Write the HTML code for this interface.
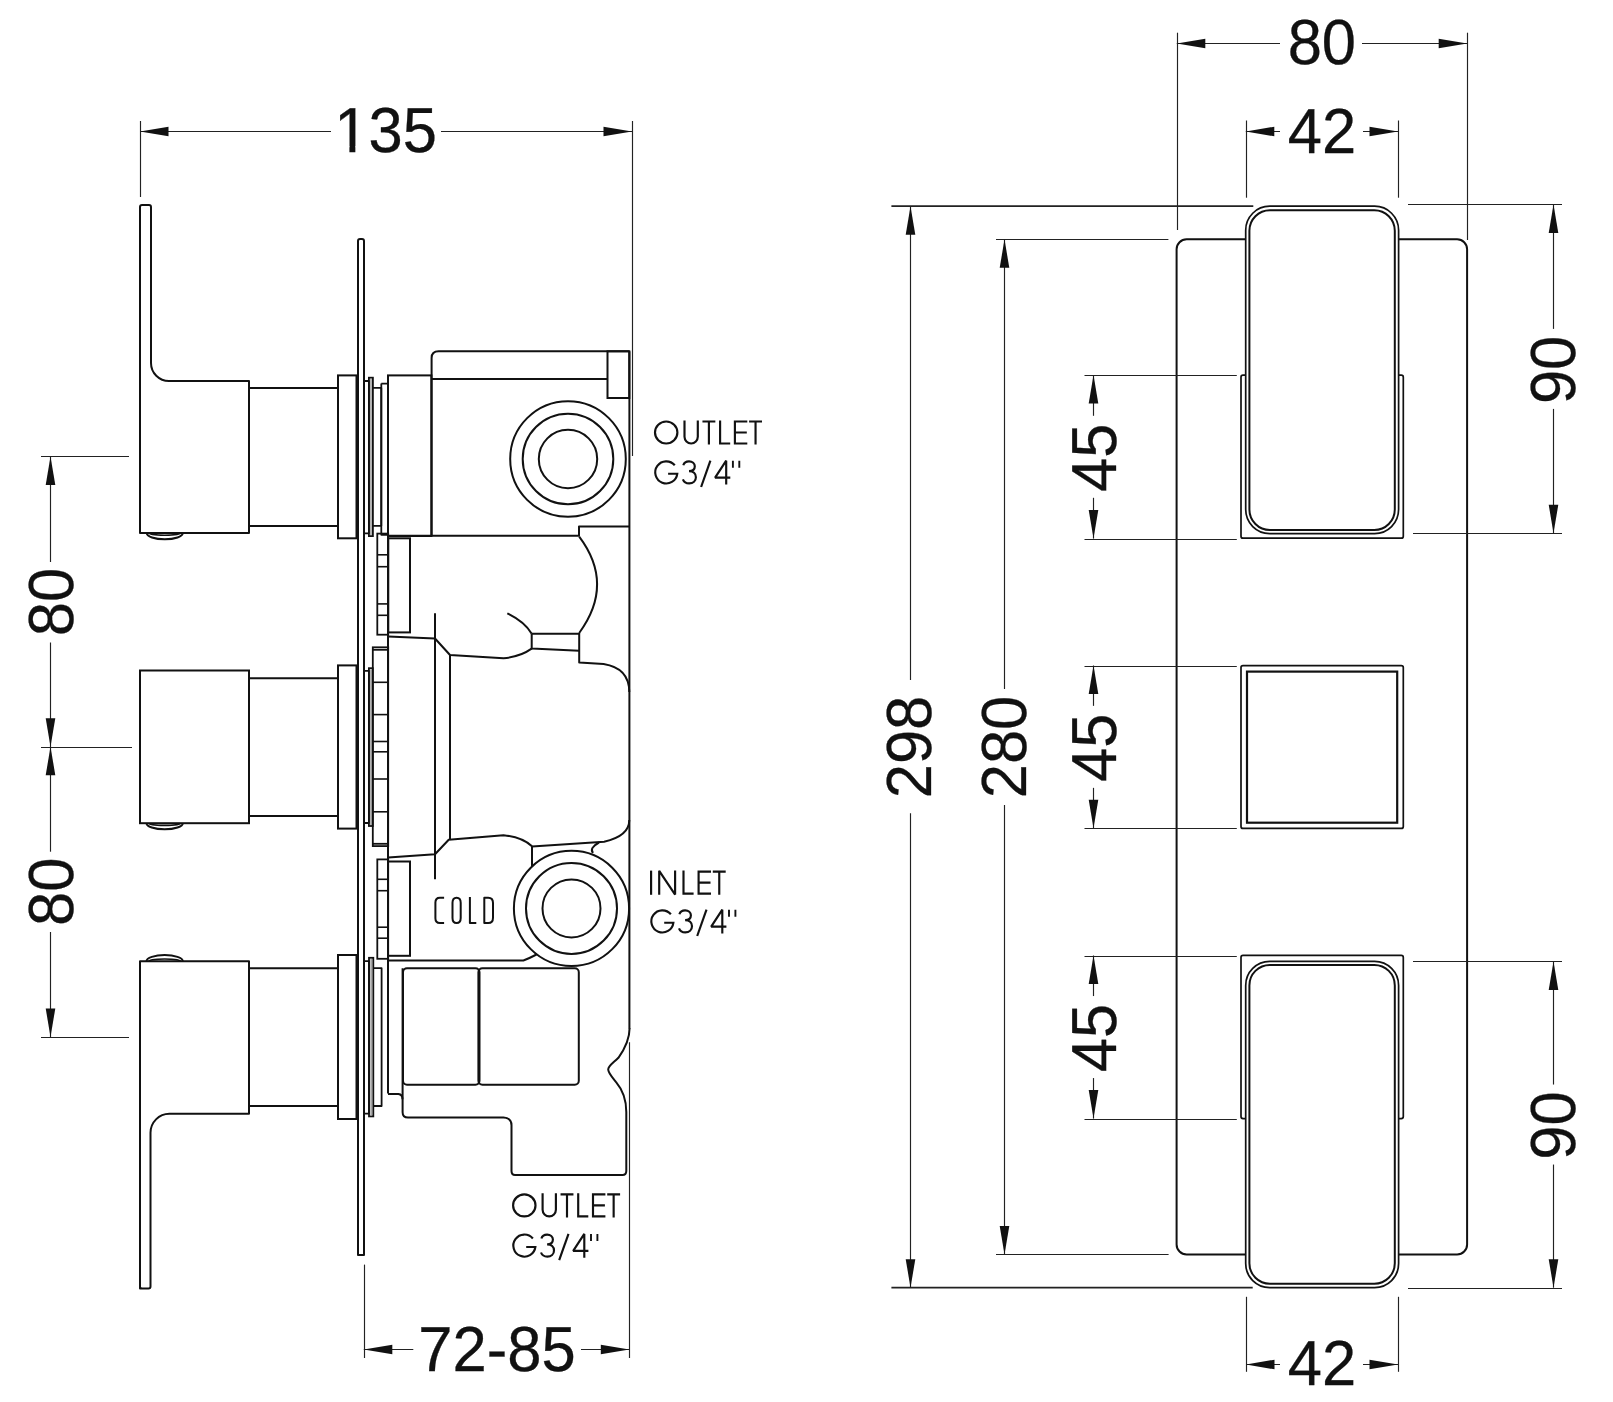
<!DOCTYPE html><html><head><meta charset="utf-8"><style>html,body{margin:0;padding:0;background:#fff;}svg{display:block;} text{text-rendering:geometricPrecision;}</style></head><body>
<svg width="1613" height="1402" viewBox="0 0 1613 1402" style="will-change:transform">
<rect width="1613" height="1402" fill="#fff"/>
<line x1="140.5" y1="121" x2="140.5" y2="197" stroke="#222" stroke-width="1.15"/>
<line x1="632.5" y1="121" x2="632.5" y2="456" stroke="#222" stroke-width="1.15"/>
<line x1="140" y1="131.5" x2="331" y2="131.5" stroke="#222" stroke-width="1.15"/>
<line x1="441" y1="131.5" x2="632" y2="131.5" stroke="#222" stroke-width="1.15"/>
<polygon points="140.0,131.5 168.5,126.7 168.5,136.3" fill="#111"/>
<polygon points="632.0,131.5 603.5,126.7 603.5,136.3" fill="#111"/>
<text transform="translate(385.6,152.3) scale(1.0,1.035)" x="0" y="0" font-size="61.5" text-anchor="middle" fill="#111" stroke="#111" stroke-width="0.3" font-family="Liberation Sans">135</text>
<rect x="337.5" y="146.3" width="11.9" height="7" fill="#fff"/><rect x="355.35" y="146.3" width="11.5" height="7" fill="#fff"/>
<line x1="50.5" y1="456.5" x2="50.5" y2="562" stroke="#222" stroke-width="1.15"/>
<line x1="50.5" y1="642.5" x2="50.5" y2="851.7" stroke="#222" stroke-width="1.15"/>
<line x1="50.5" y1="932" x2="50.5" y2="1037" stroke="#222" stroke-width="1.15"/>
<line x1="41" y1="456.5" x2="129" y2="456.5" stroke="#222" stroke-width="1.15"/>
<line x1="41" y1="747.5" x2="132" y2="747.5" stroke="#222" stroke-width="1.15"/>
<line x1="41" y1="1037.5" x2="129" y2="1037.5" stroke="#222" stroke-width="1.15"/>
<polygon points="50.5,456.5 45.7,485.0 55.3,485.0" fill="#111"/>
<polygon points="50.5,746.7 45.7,718.2 55.3,718.2" fill="#111"/>
<polygon points="50.5,746.7 45.7,775.2 55.3,775.2" fill="#111"/>
<polygon points="50.5,1037.0 45.7,1008.5 55.3,1008.5" fill="#111"/>
<text transform="translate(72.5,602) rotate(-90) scale(1.0,1.035)" x="0" y="0" font-size="61.5" text-anchor="middle" fill="#111" stroke="#111" stroke-width="0.3" font-family="Liberation Sans">80</text>
<text transform="translate(72.7,891.8) rotate(-90) scale(1.0,1.035)" x="0" y="0" font-size="61.5" text-anchor="middle" fill="#111" stroke="#111" stroke-width="0.3" font-family="Liberation Sans">80</text>
<path d="M140,533 L140,207 Q140,205 142,205 L149,205 Q151,205 151,207 L151,363 A18,18 0 0 0 169,381 L249,381 L249,533 Z" stroke="#111" stroke-width="2.0" fill="none" stroke-linejoin="round"/>
<path d="M146.7,533 A18.05,6.3 0 0 0 182.8,533" stroke="#111" stroke-width="2.0" fill="none" stroke-linejoin="round"/>
<path d="M149,533 A15.7,2.2 0 0 0 180.4,533" stroke="#111" stroke-width="1.6" fill="none" stroke-linejoin="round"/>
<line x1="249" y1="388" x2="338" y2="388" stroke="#111" stroke-width="2.0"/>
<line x1="249" y1="526" x2="338" y2="526" stroke="#111" stroke-width="2.0"/>
<rect x="338" y="375.4" width="18.50" height="162.90" rx="0" stroke="#111" stroke-width="2.0" fill="none"/>
<rect x="140" y="670.5" width="109.00" height="152.70" rx="0" stroke="#111" stroke-width="2.0" fill="none"/>
<path d="M146.5,823.2 A18.15,6.1 0 0 0 182.8,823.2" stroke="#111" stroke-width="2.0" fill="none" stroke-linejoin="round"/>
<path d="M148.8,823.2 A15.8,2.2 0 0 0 180.4,823.2" stroke="#111" stroke-width="1.6" fill="none" stroke-linejoin="round"/>
<line x1="249" y1="678.2" x2="338" y2="678.2" stroke="#111" stroke-width="2.0"/>
<line x1="249" y1="816" x2="338" y2="816" stroke="#111" stroke-width="2.0"/>
<rect x="338" y="665.4" width="18.50" height="163.20" rx="0" stroke="#111" stroke-width="2.0" fill="none"/>
<path d="M140,1288.6 L140,961.2 L249,961.2 L249,1113.8 L169.4,1113.8 A19,19 0 0 0 150.5,1132.8 L150.5,1286.6 Q150.5,1288.6 148.5,1288.6 L142,1288.6 Q140,1288.6 140,1286.6 Z" stroke="#111" stroke-width="2.0" fill="none" stroke-linejoin="round"/>
<path d="M146.5,961.2 A18.15,6.1 0 0 1 182.8,961.2" stroke="#111" stroke-width="2.0" fill="none" stroke-linejoin="round"/>
<path d="M148.8,961.2 A15.8,2.2 0 0 1 180.4,961.2" stroke="#111" stroke-width="1.6" fill="none" stroke-linejoin="round"/>
<line x1="249" y1="968.3" x2="338" y2="968.3" stroke="#111" stroke-width="2.0"/>
<line x1="249" y1="1106" x2="338" y2="1106" stroke="#111" stroke-width="2.0"/>
<rect x="338" y="955" width="18.50" height="164.00" rx="0" stroke="#111" stroke-width="2.0" fill="none"/>
<path d="M358,1255 L358,241 Q358,239 360,239 L362,239 Q364,239 364,241 L364,1255 Z" stroke="#111" stroke-width="2.0" fill="none" stroke-linejoin="round"/>
<path d="M363.8,381 L368.9,381 L368.9,533.3 L363.8,533.3" stroke="#111" stroke-width="1.8" fill="none" stroke-linejoin="round"/>
<rect x="368.9" y="377.7" width="4.00" height="158.40" rx="0" stroke="#111" stroke-width="1.8" fill="none"/>
<line x1="371" y1="379" x2="371" y2="535" stroke="#555" stroke-width="0.9"/>
<path d="M372.9,387.9 L381.3,387.9 L381.3,525.8 L372.9,525.8" stroke="#111" stroke-width="1.8" fill="none" stroke-linejoin="round"/>
<path d="M381.3,383.6 L388,383.6 M381.3,383.6 L381.3,534.8 L388,534.8" stroke="#111" stroke-width="1.8" fill="none" stroke-linejoin="round"/>
<path d="M363.8,670.8 L368.9,670.8 L368.9,823 L363.8,823" stroke="#111" stroke-width="1.8" fill="none" stroke-linejoin="round"/>
<rect x="368.9" y="668.2" width="3.90" height="157.80" rx="0" stroke="#111" stroke-width="1.8" fill="none"/>
<line x1="371" y1="669.5" x2="371" y2="825" stroke="#555" stroke-width="0.9"/>
<path d="M363.8,961.2 L369,961.2 L369,1113.6 L363.8,1113.6" stroke="#111" stroke-width="1.8" fill="none" stroke-linejoin="round"/>
<rect x="369" y="957.8" width="4.30" height="158.60" rx="0" stroke="#111" stroke-width="1.8" fill="none"/>
<line x1="371.1" y1="959" x2="371.1" y2="1115" stroke="#555" stroke-width="0.9"/>
<path d="M373.3,968.1 L381.6,968.1 L381.6,1106 L373.3,1106" stroke="#111" stroke-width="1.8" fill="none" stroke-linejoin="round"/>
<rect x="388" y="375.4" width="43.40" height="160.60" rx="0" stroke="#111" stroke-width="2.0" fill="none"/>
<path d="M431.6,536 L431.6,358 Q431.6,351.3 438.6,351.3 L629.3,351.3" stroke="#111" stroke-width="2.0" fill="none" stroke-linejoin="round"/>
<line x1="431.6" y1="379" x2="607.5" y2="379" stroke="#111" stroke-width="2.0"/>
<rect x="607.5" y="351.3" width="21.80" height="46.70" rx="0" stroke="#111" stroke-width="2.0" fill="none"/>
<circle cx="568" cy="459" r="57.8" stroke="#111" stroke-width="2.0" fill="none"/>
<circle cx="568" cy="459" r="45.3" stroke="#111" stroke-width="2.0" fill="none"/>
<circle cx="568" cy="459" r="29.2" stroke="#111" stroke-width="2.0" fill="none"/>
<path d="M388,535.7 L579,535.7 L579,526.5 L629.3,526.5" stroke="#111" stroke-width="2.0" fill="none" stroke-linejoin="round"/>
<line x1="629.4" y1="351.3" x2="629.4" y2="1028.5" stroke="#111" stroke-width="2.0"/>
<rect x="377.3" y="533.6" width="10.90" height="101.10" rx="0" stroke="#111" stroke-width="1.8" fill="none"/>
<line x1="377.3" y1="554.8" x2="388.2" y2="554.8" stroke="#111" stroke-width="1.6"/>
<line x1="377.3" y1="566.7" x2="388.2" y2="566.7" stroke="#111" stroke-width="1.6"/>
<line x1="377.3" y1="603.9" x2="388.2" y2="603.9" stroke="#111" stroke-width="1.6"/>
<line x1="377.3" y1="615.3" x2="388.2" y2="615.3" stroke="#111" stroke-width="1.6"/>
<rect x="388.2" y="538.3" width="21.80" height="94.10" rx="0" stroke="#111" stroke-width="2.0" fill="none"/>
<path d="M388.2,636.5 L435,638.5 L450,655 L503.5,658.2 Q520,657 532,648.4" stroke="#111" stroke-width="2.0" fill="none" stroke-linejoin="round"/>
<line x1="435" y1="613.3" x2="435" y2="879.3" stroke="#111" stroke-width="2.0"/>
<line x1="450" y1="655" x2="450" y2="839.8" stroke="#111" stroke-width="2.0"/>
<path d="M507.3,613.3 Q525,622 531.7,633.8" stroke="#111" stroke-width="2.0" fill="none" stroke-linejoin="round"/>
<path d="M531.7,633.8 L579.2,633.8 M531.7,633.8 L531.7,648.4 L579.2,650.7" stroke="#111" stroke-width="2.0" fill="none" stroke-linejoin="round"/>
<path d="M579.2,536.7 Q615,584.2 579.2,633" stroke="#111" stroke-width="2.0" fill="none" stroke-linejoin="round"/>
<path d="M579.2,633 L579.2,662.6 L603.6,663.9 Q629.3,668 629.3,692" stroke="#111" stroke-width="2.0" fill="none" stroke-linejoin="round"/>
<rect x="372.8" y="647.3" width="15.40" height="198.80" rx="0" stroke="#111" stroke-width="1.8" fill="none"/>
<line x1="372.8" y1="649.8" x2="388.2" y2="649.8" stroke="#111" stroke-width="1.8"/>
<line x1="372.8" y1="843.8" x2="388.2" y2="843.8" stroke="#111" stroke-width="1.8"/>
<line x1="372.8" y1="682.3" x2="388.2" y2="682.3" stroke="#111" stroke-width="1.6"/>
<line x1="372.8" y1="714.6" x2="388.2" y2="714.6" stroke="#111" stroke-width="1.6"/>
<line x1="372.8" y1="741.5" x2="388.2" y2="741.5" stroke="#111" stroke-width="1.6"/>
<line x1="372.8" y1="751.8" x2="388.2" y2="751.8" stroke="#111" stroke-width="1.6"/>
<line x1="372.8" y1="779" x2="388.2" y2="779" stroke="#111" stroke-width="1.6"/>
<line x1="372.8" y1="811.8" x2="388.2" y2="811.8" stroke="#111" stroke-width="1.6"/>
<path d="M388.2,857.6 L435,854.2 L448.7,839.8 L503.5,835.2 Q522,837 532,846.2" stroke="#111" stroke-width="2.0" fill="none" stroke-linejoin="round"/>
<line x1="532" y1="846" x2="532" y2="866" stroke="#111" stroke-width="2.0"/>
<path d="M532,846.4 L604.1,841.7 Q629.3,836 629.3,820" stroke="#111" stroke-width="2.0" fill="none" stroke-linejoin="round"/>
<path d="M599,842.5 Q589,848 593,853" stroke="#111" stroke-width="2.0" fill="none" stroke-linejoin="round"/>
<circle cx="571.5" cy="908.4" r="57.6" stroke="#111" stroke-width="2.0" fill="none"/>
<circle cx="571.5" cy="908.4" r="45.5" stroke="#111" stroke-width="2.0" fill="none"/>
<circle cx="571.5" cy="908.4" r="29" stroke="#111" stroke-width="2.0" fill="none"/>
<path d="M444.1,897.7 L439.9,897.7 Q435.4,897.7 435.4,902.5 L435.4,918.2 Q435.4,923 439.9,923 L444.1,923" stroke="#111" stroke-width="2.0" fill="none" stroke-linejoin="round"/>
<path d="M452.5,902.7 Q452.5,897.7 456.6,897.7 Q460.7,897.7 460.7,902.7 L460.7,918 Q460.7,923 456.6,923 Q452.5,923 452.5,918 Z" stroke="#111" stroke-width="2.0" fill="none" stroke-linejoin="round"/>
<path d="M469.9,897 L469.9,923 L476.3,923" stroke="#111" stroke-width="2.0" fill="none" stroke-linejoin="round"/>
<path d="M484.3,897.7 L488.2,897.7 Q493,897.7 493,903 L493,917.7 Q493,923 488.2,923 L484.3,923 Z" stroke="#111" stroke-width="2.0" fill="none" stroke-linejoin="round"/>
<rect x="377.3" y="859.4" width="10.90" height="99.40" rx="0" stroke="#111" stroke-width="1.8" fill="none"/>
<line x1="377.3" y1="879.3" x2="388.2" y2="879.3" stroke="#111" stroke-width="1.6"/>
<line x1="377.3" y1="890.7" x2="388.2" y2="890.7" stroke="#111" stroke-width="1.6"/>
<line x1="377.3" y1="927.2" x2="388.2" y2="927.2" stroke="#111" stroke-width="1.6"/>
<line x1="377.3" y1="938.2" x2="388.2" y2="938.2" stroke="#111" stroke-width="1.6"/>
<rect x="388" y="861.5" width="22.00" height="94.30" rx="0" stroke="#111" stroke-width="2.0" fill="none"/>
<path d="M388,960.5 L523.4,960.5 Q530,958 536.5,954.5" stroke="#111" stroke-width="2.0" fill="none" stroke-linejoin="round"/>
<line x1="388" y1="536" x2="388" y2="1093.4" stroke="#111" stroke-width="2.0"/>
<path d="M388,1094.1 L398.4,1094.1 Q402.5,1094.6 402.5,1099.3" stroke="#111" stroke-width="2.0" fill="none" stroke-linejoin="round"/>
<rect x="403" y="968.2" width="76.50" height="116.50" rx="4" stroke="#111" stroke-width="2.0" fill="none"/>
<rect x="478.4" y="968.2" width="100.40" height="116.50" rx="4" stroke="#111" stroke-width="2.0" fill="none"/>
<path d="M402.6,968.2 L402.6,1112.3 Q402.6,1117.6 408,1117.6 L503.5,1117.6 Q511.5,1118 511.5,1125.3 L511.5,1171 Q511.5,1175 515,1175 L622.5,1175 Q626.3,1175 626.3,1171 L626.3,1112 C626.3,1096 621,1088 616.1,1082.2 C612,1077 608.2,1073 608.2,1069.6 C608.2,1066 612,1064 618.4,1057.8 C624,1050 629.6,1040 629.6,1028" stroke="#111" stroke-width="2.0" fill="none" stroke-linejoin="round"/>
<line x1="364.5" y1="1264.6" x2="364.5" y2="1358" stroke="#222" stroke-width="1.15"/>
<line x1="629.5" y1="1042.2" x2="629.5" y2="1358" stroke="#222" stroke-width="1.15"/>
<line x1="363.8" y1="1349.5" x2="413.3" y2="1349.5" stroke="#222" stroke-width="1.15"/>
<line x1="581" y1="1349.5" x2="629.3" y2="1349.5" stroke="#222" stroke-width="1.15"/>
<polygon points="363.8,1349.5 392.3,1344.7 392.3,1354.3" fill="#111"/>
<polygon points="629.3,1349.5 600.8,1344.7 600.8,1354.3" fill="#111"/>
<text transform="translate(497,1371) scale(1.0,1.035)" x="0" y="0" font-size="61.5" text-anchor="middle" fill="#111" stroke="#111" stroke-width="0.3" font-family="Liberation Sans">72-85</text>
<g transform="translate(653.9,420.4)" fill="none" stroke="#111" stroke-width="2.15" stroke-linecap="butt" stroke-linejoin="miter"><g transform="translate(0,0)"><ellipse cx="12.3" cy="12.1" rx="11.2" ry="11.0"/></g><g transform="translate(29.5,0)"><path d="M1.1,0 L1.1,16.45 A6.65,6.65 0 0 0 14.4,16.45 L14.4,0"/></g><g transform="translate(48.55,0)"><path d="M0,1.1 L12.9,1.1 M6.45,1.1 L6.45,24.2"/></g><g transform="translate(65.1,0)"><path d="M1.1,0 L1.1,23.1 L11.2,23.1"/></g><g transform="translate(79.9,0)"><path d="M13.5,1.1 L1.1,1.1 L1.1,23.1 L13.5,23.1 M1.1,12.1 L13.0,12.1"/></g><g transform="translate(95.2,0)"><path d="M0,1.1 L12.9,1.1 M6.45,1.1 L6.45,24.2"/></g></g>
<g transform="translate(653.9,460.3)" fill="none" stroke="#111" stroke-width="2.15" stroke-linecap="butt" stroke-linejoin="miter"><g transform="translate(0,0)"><path d="M20.87,5.0 A11.05,11.05 0 1 0 23.36,13.5 L14.2,13.5"/></g><g transform="translate(28.1,0)"><path d="M1.3,5.0 C2.1,2.4 4.3,1.1 7.0,1.1 C10.4,1.1 12.8,3.2 12.8,6.0 C12.8,8.9 10.5,10.8 7.0,10.8 C11.3,10.8 13.9,13.3 13.9,16.9 C13.9,20.7 11.0,23.1 7.2,23.1 C4.2,23.1 1.8,21.5 0.9,19.0"/></g><g transform="translate(46.1,0)"><path d="M1.1,26.7 L10.4,0.4"/></g><g transform="translate(60.3,0)"><path d="M12.0,24.2 L12.0,0.4 L0.9,17.3 L16.1,17.3" stroke-linejoin="bevel"/></g><g transform="translate(78.0,0)"><path d="M1.0,0.4 L1.0,7.4 M7.4,0.4 L7.4,7.4" stroke-width="1.9"/></g></g>
<g transform="translate(650.0,870.6)" fill="none" stroke="#111" stroke-width="2.15" stroke-linecap="butt" stroke-linejoin="miter"><g transform="translate(0,0)"><path d="M1.1,0 L1.1,24.2"/></g><g transform="translate(8.1,0)"><path d="M1.1,24.2 L1.1,0.2 L17.0,24.0 L17.0,0" stroke-linejoin="bevel"/></g><g transform="translate(32.4,0)"><path d="M1.1,0 L1.1,23.1 L11.2,23.1"/></g><g transform="translate(47.5,0)"><path d="M13.5,1.1 L1.1,1.1 L1.1,23.1 L13.5,23.1 M1.1,12.1 L13.0,12.1"/></g><g transform="translate(62.8,0)"><path d="M0,1.1 L12.9,1.1 M6.45,1.1 L6.45,24.2"/></g></g>
<g transform="translate(650.0,909.3)" fill="none" stroke="#111" stroke-width="2.15" stroke-linecap="butt" stroke-linejoin="miter"><g transform="translate(0,0)"><path d="M20.87,5.0 A11.05,11.05 0 1 0 23.36,13.5 L14.2,13.5"/></g><g transform="translate(28.1,0)"><path d="M1.3,5.0 C2.1,2.4 4.3,1.1 7.0,1.1 C10.4,1.1 12.8,3.2 12.8,6.0 C12.8,8.9 10.5,10.8 7.0,10.8 C11.3,10.8 13.9,13.3 13.9,16.9 C13.9,20.7 11.0,23.1 7.2,23.1 C4.2,23.1 1.8,21.5 0.9,19.0"/></g><g transform="translate(46.1,0)"><path d="M1.1,26.7 L10.4,0.4"/></g><g transform="translate(60.3,0)"><path d="M12.0,24.2 L12.0,0.4 L0.9,17.3 L16.1,17.3" stroke-linejoin="bevel"/></g><g transform="translate(78.0,0)"><path d="M1.0,0.4 L1.0,7.4 M7.4,0.4 L7.4,7.4" stroke-width="1.9"/></g></g>
<g transform="translate(512.0,1193.3)" fill="none" stroke="#111" stroke-width="2.15" stroke-linecap="butt" stroke-linejoin="miter"><g transform="translate(0,0)"><ellipse cx="12.3" cy="12.1" rx="11.2" ry="11.0"/></g><g transform="translate(29.5,0)"><path d="M1.1,0 L1.1,16.45 A6.65,6.65 0 0 0 14.4,16.45 L14.4,0"/></g><g transform="translate(48.55,0)"><path d="M0,1.1 L12.9,1.1 M6.45,1.1 L6.45,24.2"/></g><g transform="translate(65.1,0)"><path d="M1.1,0 L1.1,23.1 L11.2,23.1"/></g><g transform="translate(79.9,0)"><path d="M13.5,1.1 L1.1,1.1 L1.1,23.1 L13.5,23.1 M1.1,12.1 L13.0,12.1"/></g><g transform="translate(95.2,0)"><path d="M0,1.1 L12.9,1.1 M6.45,1.1 L6.45,24.2"/></g></g>
<g transform="translate(512.0,1233.5)" fill="none" stroke="#111" stroke-width="2.15" stroke-linecap="butt" stroke-linejoin="miter"><g transform="translate(0,0)"><path d="M20.87,5.0 A11.05,11.05 0 1 0 23.36,13.5 L14.2,13.5"/></g><g transform="translate(28.1,0)"><path d="M1.3,5.0 C2.1,2.4 4.3,1.1 7.0,1.1 C10.4,1.1 12.8,3.2 12.8,6.0 C12.8,8.9 10.5,10.8 7.0,10.8 C11.3,10.8 13.9,13.3 13.9,16.9 C13.9,20.7 11.0,23.1 7.2,23.1 C4.2,23.1 1.8,21.5 0.9,19.0"/></g><g transform="translate(46.1,0)"><path d="M1.1,26.7 L10.4,0.4"/></g><g transform="translate(60.3,0)"><path d="M12.0,24.2 L12.0,0.4 L0.9,17.3 L16.1,17.3" stroke-linejoin="bevel"/></g><g transform="translate(78.0,0)"><path d="M1.0,0.4 L1.0,7.4 M7.4,0.4 L7.4,7.4" stroke-width="1.9"/></g></g>
<line x1="1177.5" y1="32.7" x2="1177.5" y2="230" stroke="#222" stroke-width="1.15"/>
<line x1="1467.5" y1="32.7" x2="1467.5" y2="240" stroke="#222" stroke-width="1.15"/>
<line x1="1176.8" y1="43.5" x2="1280" y2="43.5" stroke="#222" stroke-width="1.15"/>
<line x1="1362" y1="43.5" x2="1467.2" y2="43.5" stroke="#222" stroke-width="1.15"/>
<polygon points="1176.8,43.5 1205.3,38.7 1205.3,48.3" fill="#111"/>
<polygon points="1467.2,43.5 1438.7,38.7 1438.7,48.3" fill="#111"/>
<text transform="translate(1321.85,64.3) scale(1.0,1.035)" x="0" y="0" font-size="61.5" text-anchor="middle" fill="#111" stroke="#111" stroke-width="0.3" font-family="Liberation Sans">80</text>
<line x1="1246.5" y1="120.5" x2="1246.5" y2="197.7" stroke="#222" stroke-width="1.15"/>
<line x1="1398.5" y1="120.5" x2="1398.5" y2="197.7" stroke="#222" stroke-width="1.15"/>
<line x1="1245.8" y1="131.5" x2="1280" y2="131.5" stroke="#222" stroke-width="1.15"/>
<line x1="1363" y1="131.5" x2="1398" y2="131.5" stroke="#222" stroke-width="1.15"/>
<polygon points="1245.8,131.5 1274.3,126.7 1274.3,136.3" fill="#111"/>
<polygon points="1398.0,131.5 1369.5,126.7 1369.5,136.3" fill="#111"/>
<text transform="translate(1321.9,152.8) scale(1.0,1.035)" x="0" y="0" font-size="61.5" text-anchor="middle" fill="#111" stroke="#111" stroke-width="0.3" font-family="Liberation Sans">42</text>
<line x1="891.4" y1="206.2" x2="1253.3" y2="206.2" stroke="#222" stroke-width="1.7"/>
<line x1="891.4" y1="1287.7" x2="1252.7" y2="1287.7" stroke="#222" stroke-width="1.7"/>
<line x1="910.5" y1="206.2" x2="910.5" y2="680" stroke="#222" stroke-width="1.15"/>
<line x1="910.5" y1="813.2" x2="910.5" y2="1287.7" stroke="#222" stroke-width="1.15"/>
<polygon points="910.5,206.2 905.7,234.7 915.3,234.7" fill="#111"/>
<polygon points="910.5,1287.7 905.7,1259.2 915.3,1259.2" fill="#111"/>
<text transform="translate(931,747) rotate(-90) scale(1.0,1.035)" x="0" y="0" font-size="61.5" text-anchor="middle" fill="#111" stroke="#111" stroke-width="0.3" font-family="Liberation Sans">298</text>
<line x1="996" y1="239.5" x2="1168.4" y2="239.5" stroke="#222" stroke-width="1.15"/>
<line x1="996" y1="1254.5" x2="1168.6" y2="1254.5" stroke="#222" stroke-width="1.15"/>
<line x1="1004.5" y1="239.3" x2="1004.5" y2="689" stroke="#222" stroke-width="1.15"/>
<line x1="1004.5" y1="805" x2="1004.5" y2="1254.5" stroke="#222" stroke-width="1.15"/>
<polygon points="1004.5,239.3 999.7,267.8 1009.3,267.8" fill="#111"/>
<polygon points="1004.5,1254.5 999.7,1226.0 1009.3,1226.0" fill="#111"/>
<text transform="translate(1026,747) rotate(-90) scale(1.0,1.035)" x="0" y="0" font-size="61.5" text-anchor="middle" fill="#111" stroke="#111" stroke-width="0.3" font-family="Liberation Sans">280</text>
<rect x="1176.6" y="239.3" width="290.50" height="1015.20" rx="10" stroke="#111" stroke-width="2.0" fill="none"/>
<rect x="1241" y="375.2" width="162.30" height="163.00" rx="2" stroke="#111" stroke-width="1.7" fill="#fff"/>
<rect x="1245.7" y="206.2" width="152.90" height="327.40" rx="24" stroke="#111" stroke-width="1.7" fill="#fff"/>
<rect x="1249.4" y="210.3" width="145.40" height="319.70" rx="20.5" stroke="#111" stroke-width="2.0" fill="none"/>
<rect x="1241" y="665.6" width="162.30" height="162.80" rx="2" stroke="#111" stroke-width="1.7" fill="none"/>
<rect x="1247" y="671.6" width="150.20" height="151.10" rx="0" stroke="#111" stroke-width="2.2" fill="none"/>
<rect x="1241" y="955.4" width="162.30" height="163.20" rx="2" stroke="#111" stroke-width="1.7" fill="#fff"/>
<rect x="1245.7" y="961.4" width="152.90" height="326.20" rx="24" stroke="#111" stroke-width="1.7" fill="#fff"/>
<rect x="1249.4" y="964.9" width="145.40" height="318.90" rx="20.5" stroke="#111" stroke-width="2.0" fill="none"/>
<line x1="1084.5" y1="375.5" x2="1236.8" y2="375.5" stroke="#222" stroke-width="1.15"/>
<line x1="1084.5" y1="539.5" x2="1236.8" y2="539.5" stroke="#222" stroke-width="1.15"/>
<line x1="1093.5" y1="375" x2="1093.5" y2="415.8" stroke="#222" stroke-width="1.15"/>
<line x1="1093.5" y1="497.8" x2="1093.5" y2="538.6" stroke="#222" stroke-width="1.15"/>
<polygon points="1093.5,375.0 1088.7,403.5 1098.3,403.5" fill="#111"/>
<polygon points="1093.5,538.6 1088.7,510.1 1098.3,510.1" fill="#111"/>
<text transform="translate(1115.5,457.8) rotate(-90) scale(1.0,1.035)" x="0" y="0" font-size="61.5" text-anchor="middle" fill="#111" stroke="#111" stroke-width="0.3" font-family="Liberation Sans">45</text>
<line x1="1084.5" y1="666.5" x2="1236.8" y2="666.5" stroke="#222" stroke-width="1.15"/>
<line x1="1084.5" y1="828.5" x2="1236.8" y2="828.5" stroke="#222" stroke-width="1.15"/>
<line x1="1093.5" y1="665.5" x2="1093.5" y2="705.85" stroke="#222" stroke-width="1.15"/>
<line x1="1093.5" y1="787.85" x2="1093.5" y2="828.2" stroke="#222" stroke-width="1.15"/>
<polygon points="1093.5,665.5 1088.7,694.0 1098.3,694.0" fill="#111"/>
<polygon points="1093.5,828.2 1088.7,799.7 1098.3,799.7" fill="#111"/>
<text transform="translate(1115.5,747.85) rotate(-90) scale(1.0,1.035)" x="0" y="0" font-size="61.5" text-anchor="middle" fill="#111" stroke="#111" stroke-width="0.3" font-family="Liberation Sans">45</text>
<line x1="1084.5" y1="956.5" x2="1236.8" y2="956.5" stroke="#222" stroke-width="1.15"/>
<line x1="1084.5" y1="1119.5" x2="1236.8" y2="1119.5" stroke="#222" stroke-width="1.15"/>
<line x1="1093.5" y1="955.5" x2="1093.5" y2="996.05" stroke="#222" stroke-width="1.15"/>
<line x1="1093.5" y1="1078.05" x2="1093.5" y2="1118.6" stroke="#222" stroke-width="1.15"/>
<polygon points="1093.5,955.5 1088.7,984.0 1098.3,984.0" fill="#111"/>
<polygon points="1093.5,1118.6 1088.7,1090.1 1098.3,1090.1" fill="#111"/>
<text transform="translate(1115.5,1038.05) rotate(-90) scale(1.0,1.035)" x="0" y="0" font-size="61.5" text-anchor="middle" fill="#111" stroke="#111" stroke-width="0.3" font-family="Liberation Sans">45</text>
<line x1="1408" y1="204.5" x2="1562" y2="204.5" stroke="#222" stroke-width="1.15"/>
<line x1="1413" y1="533.5" x2="1562" y2="533.5" stroke="#222" stroke-width="1.15"/>
<line x1="1553.5" y1="204.5" x2="1553.5" y2="328.9" stroke="#222" stroke-width="1.15"/>
<line x1="1553.5" y1="408.9" x2="1553.5" y2="533.3" stroke="#222" stroke-width="1.15"/>
<polygon points="1553.5,204.5 1548.7,233.0 1558.3,233.0" fill="#111"/>
<polygon points="1553.5,533.3 1548.7,504.8 1558.3,504.8" fill="#111"/>
<text transform="translate(1575.2,369.9) rotate(-90) scale(1.0,1.035)" x="0" y="0" font-size="61.5" text-anchor="middle" fill="#111" stroke="#111" stroke-width="0.3" font-family="Liberation Sans">90</text>
<line x1="1413" y1="961.5" x2="1562" y2="961.5" stroke="#222" stroke-width="1.15"/>
<line x1="1408" y1="1288.5" x2="1562" y2="1288.5" stroke="#222" stroke-width="1.15"/>
<line x1="1553.5" y1="961.4" x2="1553.5" y2="1084.55" stroke="#222" stroke-width="1.15"/>
<line x1="1553.5" y1="1164.55" x2="1553.5" y2="1287.7" stroke="#222" stroke-width="1.15"/>
<polygon points="1553.5,961.4 1548.7,989.9 1558.3,989.9" fill="#111"/>
<polygon points="1553.5,1287.7 1548.7,1259.2 1558.3,1259.2" fill="#111"/>
<text transform="translate(1575.2,1125.55) rotate(-90) scale(1.0,1.035)" x="0" y="0" font-size="61.5" text-anchor="middle" fill="#111" stroke="#111" stroke-width="0.3" font-family="Liberation Sans">90</text>
<line x1="1246.5" y1="1296.8" x2="1246.5" y2="1371.8" stroke="#222" stroke-width="1.15"/>
<line x1="1398.5" y1="1296.8" x2="1398.5" y2="1371.8" stroke="#222" stroke-width="1.15"/>
<line x1="1246" y1="1364.5" x2="1280" y2="1364.5" stroke="#222" stroke-width="1.15"/>
<line x1="1363" y1="1364.5" x2="1398" y2="1364.5" stroke="#222" stroke-width="1.15"/>
<polygon points="1246.0,1364.5 1274.5,1359.7 1274.5,1369.3" fill="#111"/>
<polygon points="1398.0,1364.5 1369.5,1359.7 1369.5,1369.3" fill="#111"/>
<text transform="translate(1321.9,1384.5) scale(1.0,1.035)" x="0" y="0" font-size="61.5" text-anchor="middle" fill="#111" stroke="#111" stroke-width="0.3" font-family="Liberation Sans">42</text>
</svg></body></html>
